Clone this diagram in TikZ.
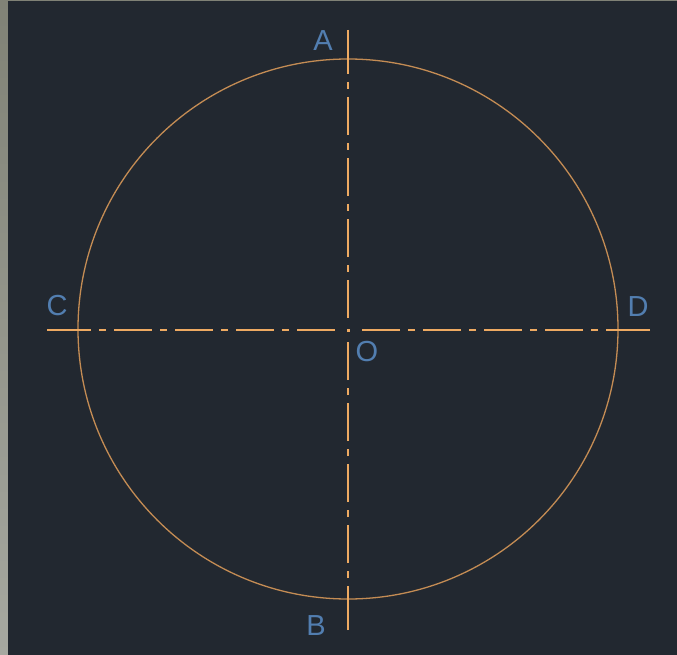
\documentclass[tikz,border=0pt]{standalone}
\usepackage{fontspec}
\setmainfont{Liberation Sans}
\usepackage{xcolor}
\usepackage{tikz}
\definecolor{sfondo}{RGB}{34,40,48}
\definecolor{bordo}{RGB}{128,130,118}
\definecolor{bordochiaro}{RGB}{166,168,160}
\definecolor{cerchio}{RGB}{196,140,84}
\definecolor{linea}{RGB}{238,170,98}
\definecolor{lettera}{RGB}{82,126,176}

\begin{document}
\begin{tikzpicture}[x=1pt, y=-1pt,
  centro/.style={linea, line width=2pt, dash pattern=on 44pt off 8pt on 7pt off 8pt
    on 38pt off 8pt on 7pt off 8pt on 38pt off 8pt on 7pt off 8pt
    on 38pt off 8pt on 7pt off 8pt on 38pt off 40pt},
  etic/.style={text=lettera, inner sep=0pt, font=\fontsize{29}{29}\selectfont}]
  % Sfondo
  \useasboundingbox (0,0) rectangle (677,655);
  \fill[bordo] (0,0) rectangle (677,655);
  \shade[top color=bordo, bottom color=bordochiaro] (0,0) rectangle (8,655);
  \fill[sfondo] (8,1) rectangle (677,655);

  % Punti
  \coordinate (O) at (348,330);
  \coordinate (A) at (348,30);
  \coordinate (B) at (348,630);
  \coordinate (C) at (47,330);
  \coordinate (D) at (650,330);

  % Cerchio
  \draw[cerchio, line width=1.3pt] (348,329) circle[radius=270pt];

  % Assi tratto-punto, dagli estremi verso il centro
  \draw[centro] (A) -- (O);
  \draw[centro] (B) -- (O);
  \draw[centro] (C) -- (O);
  \draw[centro] (D) -- (O);
  \fill[linea] ([shift={(-1.5,-1.5)}]O) rectangle ([shift={(1.5,1.5)}]O);

  % Etichette
  \node[etic] (lA) at (323,41) {A};
  \node[etic] (lB) at (316,626) {B};
  \node[etic] (lC) at (57,306) {C};
  \node[etic] (lD) at (638,307) {D};
  \node[etic] (lO) at (367,352) {O};
\end{tikzpicture}
\end{document}
